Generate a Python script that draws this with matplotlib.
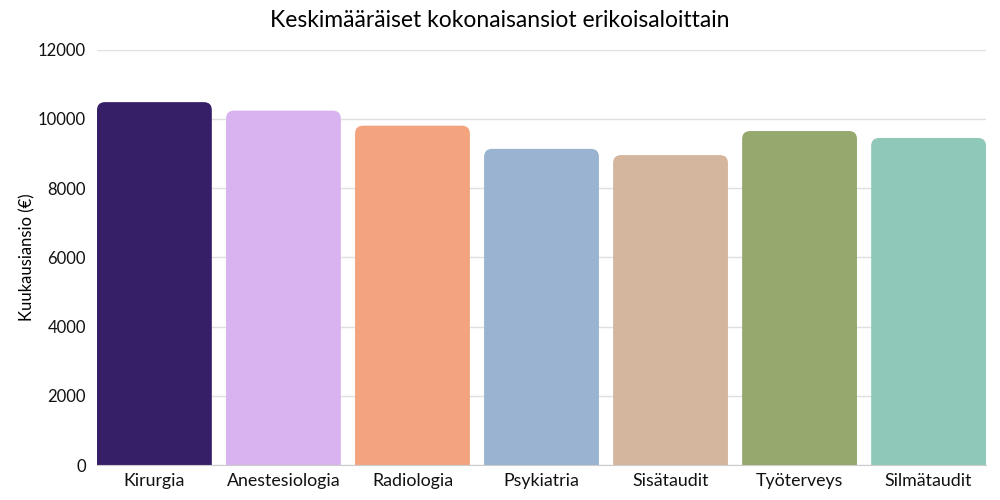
import matplotlib
matplotlib.use('Agg')
import matplotlib.pyplot as plt
from matplotlib.path import Path
from matplotlib.patches import PathPatch

# data
erikoisalat = ['Kirurgia', 'Anestesiologia', 'Radiologia', 'Psykiatria',
               'Sisätaudit', 'Työterveys', 'Silmätaudit']
ansio = [10480, 10235, 9800, 9130, 8950, 9645, 9445]
varit = ['#361f66', '#d9b3ef', '#f3a47f', '#99b3d1', '#d4b59e', '#95a86d', '#8fc8b9']
yticks = [0, 2000, 4000, 6000, 8000, 10000, 12000]

plt.rcParams['font.family'] = ['Lato', 'DejaVu Sans']

fig = plt.figure(figsize=(10, 5), dpi=100)
ax = fig.add_axes([0.097, 0.07, 0.889, 0.831])

bars = ax.bar(range(len(erikoisalat)), ansio, width=0.89, color=varit, zorder=2)
ax.set_xlim(-0.445, len(erikoisalat) - 1 + 0.445)
ax.set_ylim(0, 12000)

# rounded tops: replace each bar with a path, radius given in pixels
fig.canvas.draw()
bbox = ax.get_window_extent()
px_x = bbox.width / (ax.get_xlim()[1] - ax.get_xlim()[0])
px_y = bbox.height / (ax.get_ylim()[1] - ax.get_ylim()[0])
r = 8
for b in bars:
    x0, w, h = b.get_x(), b.get_width(), b.get_height()
    rx, ry = r / px_x, r / px_y
    verts = [(x0, 0), (x0, h - ry), (x0, h), (x0 + rx, h),
             (x0 + w - rx, h), (x0 + w, h), (x0 + w, h - ry),
             (x0 + w, 0), (x0, 0)]
    codes = [Path.MOVETO, Path.LINETO, Path.CURVE3, Path.CURVE3,
             Path.LINETO, Path.CURVE3, Path.CURVE3, Path.LINETO, Path.CLOSEPOLY]
    ax.add_patch(PathPatch(Path(verts, codes), facecolor=b.get_facecolor(),
                           edgecolor='none', zorder=2))
    b.set_visible(False)

ax.set_yticks(yticks)
ax.set_yticklabels([str(v) for v in yticks])
ax.set_xticks(range(len(erikoisalat)))
ax.set_xticklabels(erikoisalat)
ax.tick_params(axis='both', length=0, colors='#111111')
ax.tick_params(axis='y', pad=8, labelsize=12)
ax.tick_params(axis='x', pad=6, labelsize=12.8)
ax.grid(axis='y', color='#e0e0e0', linewidth=1, zorder=0)
for s in ['top', 'right', 'left']:
    ax.spines[s].set_visible(False)
ax.spines['bottom'].set_color('#cccccc')
ax.spines['bottom'].set_zorder(3)

ax.set_ylabel('Kuukausiansio (€)', fontsize=12, labelpad=2)
fig.suptitle('Keskimääräiset kokonaisansiot erikoisaloittain', fontsize=16.5, y=0.98)

fig.savefig('out.png', dpi=100)
